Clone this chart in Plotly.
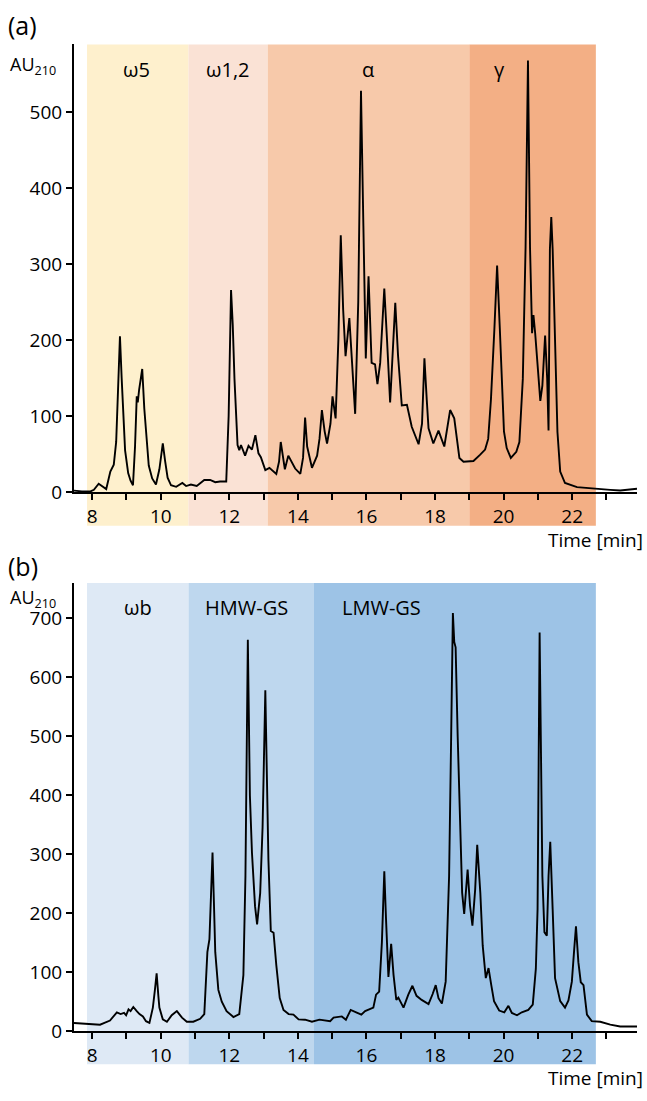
import plotly.graph_objects as go

# ---------------- data ----------------
# (a) chromatogram: retention time [min] and absorbance AU210
time_a = [7.47, 7.7, 7.95, 8.05, 8.19, 8.30, 8.41, 8.53, 8.63, 8.70, 8.76, 8.81, 8.86, 8.90, 8.96, 9.05, 9.12, 9.19,
          9.25, 9.30, 9.33, 9.37, 9.46, 9.52, 9.58, 9.65, 9.75, 9.86, 9.96, 10.06, 10.13, 10.20, 10.30, 10.45, 10.63,
          10.74, 10.88, 11.05, 11.27, 11.44, 11.59, 11.73, 11.91, 11.98, 12.05, 12.10, 12.15, 12.24, 12.29, 12.34,
          12.46, 12.56, 12.66, 12.76, 12.85, 12.92, 13.05, 13.17, 13.37, 13.45, 13.50, 13.58, 13.62, 13.72, 13.92,
          14.07, 14.15, 14.21, 14.27, 14.41, 14.56, 14.63, 14.70, 14.78, 14.85, 14.95, 15.01, 15.10, 15.18, 15.25,
          15.32, 15.39, 15.50, 15.58, 15.67, 15.76, 15.84, 15.91, 15.98, 16.06, 16.15, 16.25, 16.32, 16.40, 16.52,
          16.60, 16.69, 16.84, 16.92, 17.03, 17.18, 17.32, 17.52, 17.62, 17.69, 17.76, 17.81, 17.95, 18.10, 18.27,
          18.44, 18.56, 18.71, 18.83, 19.12, 19.31, 19.46, 19.55, 19.63, 19.73, 19.81, 19.89, 19.94, 20.01, 20.09,
          20.21, 20.37, 20.46, 20.56, 20.64, 20.71, 20.77, 20.83, 20.87, 20.92, 20.99, 21.07, 21.13, 21.21, 21.27,
          21.31, 21.35, 21.39, 21.43, 21.47, 21.50, 21.57, 21.65, 21.79, 22.14, 22.62, 23.11, 23.40, 23.89]
au_a = [2, 1, 1, 3, 11, 8, 4, 27, 36, 66, 140, 205, 150, 105, 55, 25, 15, 9,
        60, 126, 118, 135, 162, 110, 70, 35, 18, 10, 30, 64, 40, 19, 9, 7, 12,
        8, 10, 8, 16, 16, 13, 14, 14, 100, 266, 220, 149, 62, 55, 62,
        48, 61, 56, 75, 51, 46, 29, 32, 24, 40, 66, 40, 30, 48, 31,
        24, 45, 98, 60, 32, 48, 70, 108, 80, 64, 90, 126, 97, 200, 338,
        240, 179, 229, 170, 103, 250, 528, 350, 176, 284, 170, 168, 142, 170, 268,
        200, 118, 249, 180, 114, 115, 86, 63, 90, 176, 120, 84, 64, 81, 60,
        108, 97, 45, 40, 41, 49, 56, 70, 122, 214, 298, 214, 149, 80, 58,
        45, 53, 66, 149, 322, 568, 322, 209, 233, 209, 162, 120, 140, 206, 150,
        81, 320, 362, 320, 250, 192, 79, 27, 12, 6.5, 4.4, 3, 2.1, 4.4]

# (b) chromatogram
time_b = [7.47, 7.8, 8.23, 8.52, 8.72, 8.83, 8.93, 8.99, 9.06, 9.12, 9.20, 9.30, 9.38, 9.48, 9.57, 9.67, 9.77, 9.83,
          9.88, 9.93, 9.96, 10.06, 10.18, 10.32, 10.47, 10.62, 10.76, 10.95, 11.15, 11.27, 11.36, 11.42, 11.47,
          11.51, 11.55, 11.59, 11.68, 11.78, 11.92, 12.12, 12.29, 12.41, 12.47, 12.54, 12.60, 12.66, 12.75, 12.81,
          12.90, 12.97, 13.05, 13.10, 13.14, 13.21, 13.29, 13.37, 13.47, 13.58, 13.73, 13.87, 14.02, 14.21, 14.41,
          14.63, 14.94, 15.04, 15.28, 15.40, 15.54, 15.70, 15.85, 15.96, 16.11, 16.20, 16.28, 16.37, 16.45, 16.52,
          16.57, 16.64, 16.72, 16.79, 16.87, 16.93, 17.08, 17.22, 17.34, 17.46, 17.61, 17.81, 17.93, 18.02, 18.10,
          18.20, 18.31, 18.41, 18.47, 18.52, 18.56, 18.60, 18.66, 18.72, 18.79, 18.85, 18.95, 19.02, 19.09, 19.17,
          19.23, 19.32, 19.39, 19.48, 19.56, 19.64, 19.72, 19.87, 20.02, 20.14, 20.24, 20.39, 20.53, 20.72, 20.85,
          20.94, 20.99, 21.05, 21.13, 21.19, 21.26, 21.31, 21.36, 21.43, 21.50, 21.65, 21.79, 21.89, 21.99, 22.06,
          22.11, 22.18, 22.25, 22.33, 22.43, 22.57, 22.82, 23.11, 23.40, 23.93]
au_b = [14, 13, 11, 18, 32, 29, 31, 27, 37, 34, 41, 34, 29, 25, 17, 14, 40, 70,
        98, 60, 40, 20, 16, 27, 34, 23, 16, 16, 21, 29, 134, 156, 230,
        303, 220, 134, 70, 50, 34, 24, 29, 95, 263, 664, 400, 303, 212, 181,
        234, 346, 578, 400, 291, 170, 167, 112, 56, 36, 29, 28, 20, 19.5, 16,
        19.5, 17, 23, 25, 19.5, 36, 32, 28, 34, 38, 40, 62, 67, 151, 271,
        190, 92, 148, 95, 53, 57, 40, 62, 77, 60, 53, 46, 63, 78, 56,
        47, 84, 263, 500, 709, 660, 651, 500, 363, 235, 199, 274, 213, 179, 240,
        316, 235, 145, 90, 107, 78, 51, 35, 32, 43, 31, 27, 32, 36, 45,
        106, 207, 676, 263, 168, 162, 263, 321, 207, 90, 51, 40, 52, 84, 140,
        178, 117, 83, 78, 28, 17, 16, 11, 8, 8]

# shaded fractions: names, start/end times, colours
bands_a = ["ω5", "ω1,2", "α", "γ"]
band_edges_a = [7.85, 10.81, 13.12, 19.0, 22.69]
band_colors_a = ["#FEF0CD", "#FAE2D5", "#F7C9AA", "#F3AF85"]

bands_b = ["ωb", "HMW-GS", "LMW-GS"]
band_edges_b = [7.85, 10.81, 14.47, 22.69]
band_colors_b = ["#DEE9F5", "#BED7EE", "#9DC3E6"]

x_major_ticks = [8, 10, 12, 14, 16, 18, 20, 22]
x_minor_ticks = [9, 11, 13, 15, 17, 19, 21, 23]
y_ticks_a = [0, 100, 200, 300, 400, 500]
y_ticks_b = [0, 100, 200, 300, 400, 500, 600, 700]

# ---------------- figure ----------------
W, H = 647, 1101
FONT = "Open Sans"


def py(px):  # pixel row -> paper fraction
    return 1 - px / H


def pxx(px):
    return px / W


fig = go.Figure()
fig.add_trace(go.Scatter(x=time_a, y=au_a, mode="lines", line=dict(color="black", width=1.9),
                         xaxis="x", yaxis="y", hoverinfo="skip", showlegend=False))
fig.add_trace(go.Scatter(x=time_b, y=au_b, mode="lines", line=dict(color="black", width=1.9),
                         xaxis="x2", yaxis="y2", hoverinfo="skip", showlegend=False))

xdom = [pxx(74), pxx(637)]
axis_common = dict(showline=True, linecolor="black", linewidth=2, ticks="outside", ticklen=6,
                   tickwidth=1.5, tickcolor="black", showgrid=False, zeroline=False,
                   tickfont=dict(family=FONT, size=19, color="black"))
minor_x = dict(tickvals=x_minor_ticks, ticks="outside", ticklen=6, tickwidth=1.5, tickcolor="black",
               showgrid=False)

fig.update_layout(
    width=W, height=H, margin=dict(l=0, r=0, t=0, b=0),
    paper_bgcolor="white", plot_bgcolor="rgba(0,0,0,0)",
    xaxis=dict(domain=xdom, range=[7.47, 23.89], anchor="y", tickvals=x_major_ticks, minor=minor_x,
               **axis_common),
    yaxis=dict(domain=[py(498), py(45)], range=[0, 589], anchor="x", tickvals=y_ticks_a, **axis_common),
    xaxis2=dict(domain=xdom, range=[7.47, 23.89], anchor="y2", tickvals=x_major_ticks, minor=minor_x,
                **axis_common),
    yaxis2=dict(domain=[py(1043.5), py(590)], range=[0, 760], anchor="x2", tickvals=y_ticks_b,
                **axis_common),
)

shapes = []
for i, c in enumerate(band_colors_a):
    shapes.append(dict(type="rect", xref="x", yref="paper", x0=band_edges_a[i], x1=band_edges_a[i + 1],
                       y0=py(532), y1=py(45), fillcolor=c, line=dict(width=0), layer="below"))
for i, c in enumerate(band_colors_b):
    shapes.append(dict(type="rect", xref="x2", yref="paper", x0=band_edges_b[i], x1=band_edges_b[i + 1],
                       y0=py(1077), y1=py(590), fillcolor=c, line=dict(width=0), layer="below"))
fig.update_layout(shapes=shapes)

ann = []
label_font = dict(family=FONT, size=20, color="black")
label_x_a = [9.3, 11.95, 16.05, 19.87]
for name, xc in zip(bands_a, label_x_a):
    ann.append(dict(x=xc, y=py(70), xref="x", yref="paper", text=name, showarrow=False,
                    font=label_font, xanchor="center", yanchor="middle"))
label_x_b = [9.35, 12.5, 16.45]
for name, xc in zip(bands_b, label_x_b):
    ann.append(dict(x=xc, y=py(615), xref="x2", yref="paper", text=name, showarrow=False,
                    font=label_font, xanchor="center", yanchor="middle"))

for txt, ypx in [("(a)", 25), ("(b)", 573)]:
    ann.append(dict(x=pxx(6), y=py(ypx), xref="paper", yref="paper", text=txt, showarrow=False,
                    font=dict(family=FONT, size=25, color="black"), xanchor="left", yanchor="middle"))
for ypx in [66, 606]:
    ann.append(dict(x=pxx(8), y=py(ypx), xref="paper", yref="paper", text="AU<sub>210</sub>",
                    showarrow=False, font=dict(family=FONT, size=18, color="black"),
                    xanchor="left", yanchor="middle"))
for ypx in [546, 1091]:
    ann.append(dict(x=pxx(645), y=py(ypx), xref="paper", yref="paper", text="Time [min]",
                    showarrow=False, font=dict(family=FONT, size=19, color="black"),
                    xanchor="right", yanchor="middle"))
fig.update_layout(annotations=ann)

fig.write_html("out.html", post_script="document.body.style.margin='0px';",
               config={"displayModeBar": False})
